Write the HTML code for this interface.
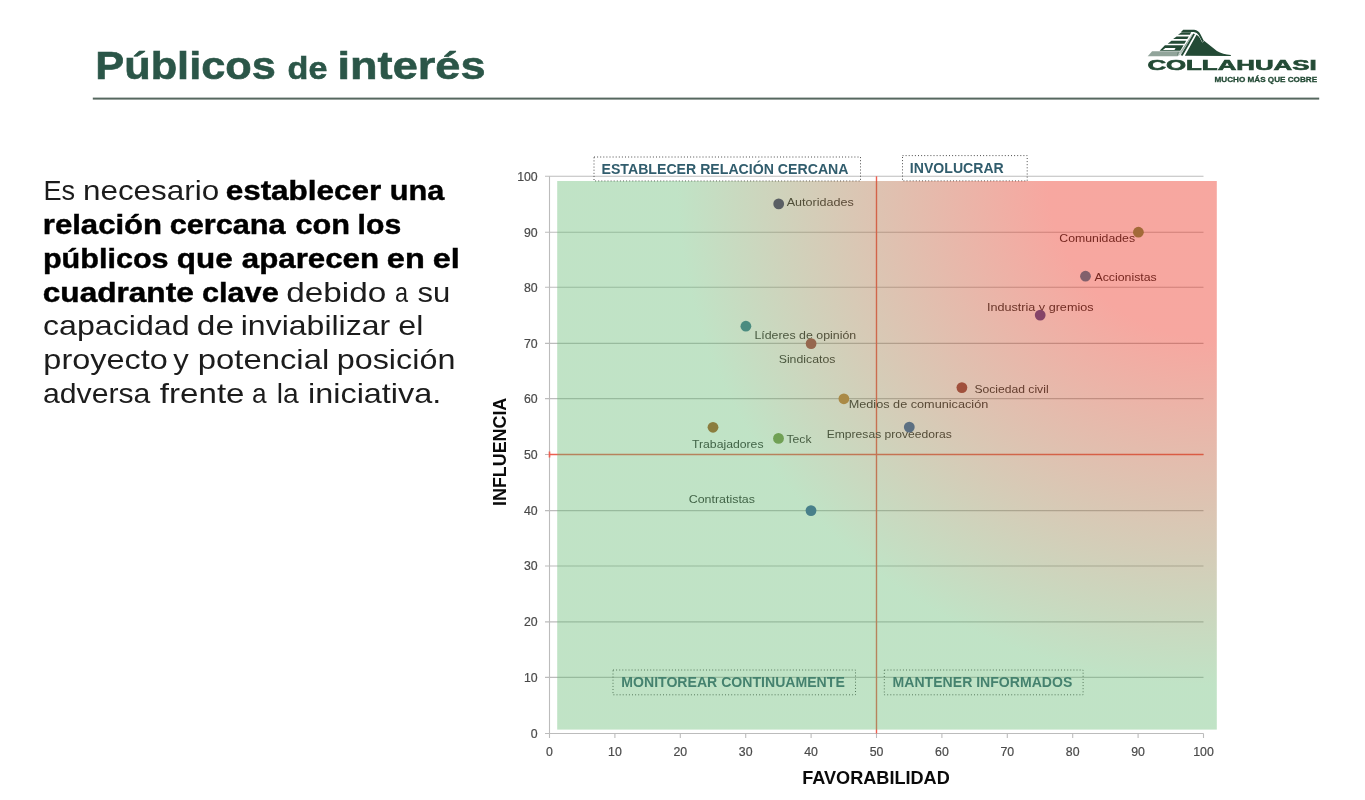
<!DOCTYPE html>
<html lang="es"><head><meta charset="utf-8"><title>Públicos de interés</title>
<style>
html,body{margin:0;padding:0;background:#fff;}
body{width:1365px;height:800px;overflow:hidden;font-family:"Liberation Sans",sans-serif;}
svg{display:block;position:absolute;left:0;top:0;}
text{font-family:"Liberation Sans",sans-serif;}
.t{fill:#2b5648;stroke:#2b5648;stroke-width:0.6px;font-weight:bold;}
.lg{fill:#234a35;font-weight:bold;}
.b{fill:#1c1c1c;font-size:28px;}
.bb{fill:#000;stroke:#000;stroke-width:0.45px;font-size:28px;font-weight:bold;}
.ax{fill:#4a4a4a;stroke:#4a4a4a;stroke-width:0.2px;font-size:12.3px;}
.lb{fill:#282828;font-size:11.3px;}
.q{fill:#315d6d;font-weight:bold;font-size:13.8px;}
.at{fill:#0a0a0a;font-weight:bold;font-size:19px;}
</style></head><body>
<svg width="1365" height="800" viewBox="0 0 1365 800">
<defs>
<radialGradient id="ov" gradientUnits="userSpaceOnUse" cx="0" cy="0" r="1" gradientTransform="translate(1217 181) scale(750 700)">
<stop offset="0" stop-color="#eb2311"/>
<stop offset="0.225" stop-color="#eb2311"/>
<stop offset="0.72" stop-color="#62b970"/>
<stop offset="1" stop-color="#62b970"/>
</radialGradient>
</defs>
<text class="t" y="79.2"><tspan x="95.3" font-size="39.5" textLength="180.5" lengthAdjust="spacingAndGlyphs">Públicos</tspan> <tspan x="287.6" font-size="31.5" textLength="39.8" lengthAdjust="spacingAndGlyphs">de</tspan> <tspan x="337.5" font-size="39.5" textLength="148" lengthAdjust="spacingAndGlyphs">interés</tspan></text>
<rect x="92.8" y="97.6" width="1226.4" height="2" fill="#56685f"/>
<g fill="#234a35">
<path d="M 1184.84 55.79 L 1196.56 34.84 L 1216.92 51.11 Q 1222.78 54.62 1230.84 55.06 L 1230.84 56.01 Z"/>
<path d="M 1180.73 55.14 L 1193.33 33.38 L 1194.95 34.26 L 1182.64 55.79 Z"/>
<path d="M 1183.22 29.86 L 1194.21 29.86 Q 1198.61 30.45 1200.44 34.26 L 1203.88 41.00 L 1202.42 42.02 L 1198.61 34.99 Q 1197.14 32.21 1193.85 31.91 L 1181.03 31.91 Z" stroke="#fff" stroke-width="0.9" paint-order="stroke"/>
<path d="M 1181.61 32.21 L 1191.28 32.21 L 1189.82 34.77 L 1177.95 34.77 Z"/>
<path d="M 1176.63 36.45 L 1188.72 36.45 L 1187.25 39.09 L 1173.11 39.09 Z"/>
<path d="M 1171.50 40.85 L 1186.15 40.85 L 1184.47 43.85 L 1167.69 43.85 Z"/>
<path d="M 1164.91 45.25 L 1183.59 45.25 L 1180.29 50.81 L 1159.63 50.81 Z M 1165.27 47.88 L 1162.86 49.93 L 1174.43 49.93 L 1175.60 47.88 Z" fill-rule="evenodd"/>
<path d="M 1152.09 51.25 L 1179.93 51.25 L 1177.51 56.23 L 1147.69 56.23 Z" opacity="0.5"/>
<g fill="none" stroke="#234a35" stroke-width="0.55" opacity="0.6"><path d="M 1192.16 34.26 L 1181.03 53.30 Q 1179.93 55.36 1177.36 55.65"/><path d="M 1189.67 38.65 L 1181.03 52.21 Q 1179.56 54.40 1177.00 54.62"/><path d="M 1186.89 43.19 L 1181.39 50.74 Q 1179.93 52.94 1177.00 53.30"/></g>
</g>
<text class="lg" x="1147.4" y="70" textLength="169.2" lengthAdjust="spacingAndGlyphs" font-size="14.3" style="stroke:#234a35;stroke-width:0.6px">COLLAHUASI</text>
<text class="lg" x="1214.5" y="82.4" textLength="102.6" lengthAdjust="spacingAndGlyphs" font-size="7.9" style="stroke:#234a35;stroke-width:0.3px">MUCHO MÁS QUE COBRE</text>
<text class="b"><tspan class="b" x="43.53" y="200.4" textLength="31.67" lengthAdjust="spacingAndGlyphs">Es</tspan> <tspan class="b" x="82.95" y="200.4" textLength="136.24" lengthAdjust="spacingAndGlyphs">necesario</tspan> <tspan class="bb" x="225.68" y="200.4" textLength="155.61" lengthAdjust="spacingAndGlyphs">establecer</tspan> <tspan class="bb" x="389.88" y="200.4" textLength="54.51" lengthAdjust="spacingAndGlyphs">una</tspan>
<tspan class="bb" x="42.79" y="234.0" textLength="119.35" lengthAdjust="spacingAndGlyphs">relación</tspan> <tspan class="bb" x="169.73" y="234.0" textLength="115.79" lengthAdjust="spacingAndGlyphs">cercana</tspan> <tspan class="bb" x="295.44" y="234.0" textLength="54.55" lengthAdjust="spacingAndGlyphs">con</tspan> <tspan class="bb" x="357.62" y="234.0" textLength="43.6" lengthAdjust="spacingAndGlyphs">los</tspan>
<tspan class="bb" x="42.93" y="267.7" textLength="125.68" lengthAdjust="spacingAndGlyphs">públicos</tspan> <tspan class="bb" x="176.89" y="267.7" textLength="55.76" lengthAdjust="spacingAndGlyphs">que</tspan> <tspan class="bb" x="241.82" y="267.7" textLength="137.21" lengthAdjust="spacingAndGlyphs">aparecen</tspan> <tspan class="bb" x="386.86" y="267.7" textLength="37.88" lengthAdjust="spacingAndGlyphs">en</tspan> <tspan class="bb" x="432.74" y="267.7" textLength="27.01" lengthAdjust="spacingAndGlyphs">el</tspan>
<tspan class="bb" x="42.81" y="301.5" textLength="150.95" lengthAdjust="spacingAndGlyphs">cuadrante</tspan> <tspan class="bb" x="201.97" y="301.5" textLength="76.72" lengthAdjust="spacingAndGlyphs">clave</tspan> <tspan class="b" x="286.17" y="301.5" textLength="100.07" lengthAdjust="spacingAndGlyphs">debido</tspan> <tspan class="b" x="394.92" y="301.5" textLength="13.07" lengthAdjust="spacingAndGlyphs">a</tspan> <tspan class="b" x="417.52" y="301.5" textLength="32.8" lengthAdjust="spacingAndGlyphs">su</tspan>
<tspan class="b" x="42.99" y="335.3" textLength="146.54" lengthAdjust="spacingAndGlyphs">capacidad</tspan> <tspan class="b" x="196.82" y="335.3" textLength="37.17" lengthAdjust="spacingAndGlyphs">de</tspan> <tspan class="b" x="240.78" y="335.3" textLength="149.4" lengthAdjust="spacingAndGlyphs">inviabilizar</tspan> <tspan class="b" x="398.34" y="335.3" textLength="25.03" lengthAdjust="spacingAndGlyphs">el</tspan>
<tspan class="b" x="43.37" y="369.0" textLength="124.37" lengthAdjust="spacingAndGlyphs">proyecto</tspan> <tspan class="b" x="173.25" y="369.0" textLength="15.48" lengthAdjust="spacingAndGlyphs">y</tspan> <tspan class="b" x="197.77" y="369.0" textLength="131.43" lengthAdjust="spacingAndGlyphs">potencial</tspan> <tspan class="b" x="336.71" y="369.0" textLength="118.67" lengthAdjust="spacingAndGlyphs">posición</tspan>
<tspan class="b" x="42.98" y="402.8" textLength="107.41" lengthAdjust="spacingAndGlyphs">adversa</tspan> <tspan class="b" x="159.89" y="402.8" textLength="84.65" lengthAdjust="spacingAndGlyphs">frente</tspan> <tspan class="b" x="252.06" y="402.8" textLength="14.57" lengthAdjust="spacingAndGlyphs">a</tspan> <tspan class="b" x="276.84" y="402.8" textLength="21.94" lengthAdjust="spacingAndGlyphs">la</tspan> <tspan class="b" x="308.05" y="402.8" textLength="133.25" lengthAdjust="spacingAndGlyphs">iniciativa.</tspan></text>
<g stroke="#bcbcbc" stroke-width="1.1">
<line x1="545.0" y1="677.4" x2="1203.5" y2="677.4"/>
<line x1="545.0" y1="621.9" x2="1203.5" y2="621.9"/>
<line x1="545.0" y1="566.0" x2="1203.5" y2="566.0"/>
<line x1="545.0" y1="510.6" x2="1203.5" y2="510.6"/>
<line x1="545.0" y1="454.5" x2="1203.5" y2="454.5"/>
<line x1="545.0" y1="398.6" x2="1203.5" y2="398.6"/>
<line x1="545.0" y1="343.4" x2="1203.5" y2="343.4"/>
<line x1="545.0" y1="287.3" x2="1203.5" y2="287.3"/>
<line x1="545.0" y1="232.2" x2="1203.5" y2="232.2"/>
<line x1="545.0" y1="176.2" x2="1203.5" y2="176.2"/>
<line x1="549.5" y1="176.2" x2="549.5" y2="738.0"/>
<line x1="545.0" y1="733.5" x2="1203.5" y2="733.5"/>
<line x1="614.9" y1="733.5" x2="614.9" y2="738.0"/>
<line x1="680.3" y1="733.5" x2="680.3" y2="738.0"/>
<line x1="745.7" y1="733.5" x2="745.7" y2="738.0"/>
<line x1="811.1" y1="733.5" x2="811.1" y2="738.0"/>
<line x1="876.5" y1="733.5" x2="876.5" y2="738.0"/>
<line x1="941.9" y1="733.5" x2="941.9" y2="738.0"/>
<line x1="1007.3" y1="733.5" x2="1007.3" y2="738.0"/>
<line x1="1072.7" y1="733.5" x2="1072.7" y2="738.0"/>
<line x1="1138.1" y1="733.5" x2="1138.1" y2="738.0"/>
<line x1="1203.5" y1="733.5" x2="1203.5" y2="738.0"/>
</g>
<g stroke="#ee5f50" stroke-width="1.4"><line x1="549.5" y1="454.5" x2="1203.5" y2="454.5"/><line x1="876.5" y1="176.2" x2="876.5" y2="733.5"/><line x1="549.5" y1="451.5" x2="549.5" y2="457.5" stroke-width="1.6"/></g>
<text class="ax" x="537.7" y="737.8" text-anchor="end">0</text>
<text class="ax" x="549.5" y="755.5" text-anchor="middle">0</text>
<text class="ax" x="537.7" y="681.7" text-anchor="end">10</text>
<text class="ax" x="614.9" y="755.5" text-anchor="middle">10</text>
<text class="ax" x="537.7" y="626.2" text-anchor="end">20</text>
<text class="ax" x="680.3" y="755.5" text-anchor="middle">20</text>
<text class="ax" x="537.7" y="570.3" text-anchor="end">30</text>
<text class="ax" x="745.7" y="755.5" text-anchor="middle">30</text>
<text class="ax" x="537.7" y="514.9" text-anchor="end">40</text>
<text class="ax" x="811.1" y="755.5" text-anchor="middle">40</text>
<text class="ax" x="537.7" y="458.8" text-anchor="end">50</text>
<text class="ax" x="876.5" y="755.5" text-anchor="middle">50</text>
<text class="ax" x="537.7" y="402.9" text-anchor="end">60</text>
<text class="ax" x="941.9" y="755.5" text-anchor="middle">60</text>
<text class="ax" x="537.7" y="347.7" text-anchor="end">70</text>
<text class="ax" x="1007.3" y="755.5" text-anchor="middle">70</text>
<text class="ax" x="537.7" y="291.6" text-anchor="end">80</text>
<text class="ax" x="1072.7" y="755.5" text-anchor="middle">80</text>
<text class="ax" x="537.7" y="236.5" text-anchor="end">90</text>
<text class="ax" x="1138.1" y="755.5" text-anchor="middle">90</text>
<text class="ax" x="537.7" y="180.5" text-anchor="end">100</text>
<text class="ax" x="1203.5" y="755.5" text-anchor="middle">100</text>
<text class="lb" x="786.7" y="205.9" textLength="67.1" lengthAdjust="spacingAndGlyphs">Autoridades</text>
<text class="lb" x="1059.3" y="242.4" textLength="75.8" lengthAdjust="spacingAndGlyphs">Comunidades</text>
<text class="lb" x="1094.5" y="280.7" textLength="62.2" lengthAdjust="spacingAndGlyphs">Accionistas</text>
<text class="lb" x="987" y="310.7" textLength="106.5" lengthAdjust="spacingAndGlyphs">Industria y gremios</text>
<text class="lb" x="754.4" y="338.5" textLength="101.8" lengthAdjust="spacingAndGlyphs">Líderes de opinión</text>
<text class="lb" x="778.7" y="363.4" textLength="56.7" lengthAdjust="spacingAndGlyphs">Sindicatos</text>
<text class="lb" x="974.4" y="392.9" textLength="74.2" lengthAdjust="spacingAndGlyphs">Sociedad civil</text>
<text class="lb" x="848.7" y="408.3" textLength="139.6" lengthAdjust="spacingAndGlyphs">Medios de comunicación</text>
<text class="lb" x="692.0" y="448.3" textLength="71.5" lengthAdjust="spacingAndGlyphs">Trabajadores</text>
<text class="lb" x="826.7" y="437.5" textLength="125.2" lengthAdjust="spacingAndGlyphs">Empresas proveedoras</text>
<text class="lb" x="786.5" y="443" textLength="25" lengthAdjust="spacingAndGlyphs">Teck</text>
<text class="lb" x="688.7" y="503" textLength="66.3" lengthAdjust="spacingAndGlyphs">Contratistas</text>
<rect x="594" y="157" width="266.5" height="24" fill="none" stroke="#4d4d4d" stroke-width="1" stroke-dasharray="1 2.1"/>
<text class="q" x="601.5" y="174.1" textLength="247" lengthAdjust="spacingAndGlyphs">ESTABLECER RELACIÓN CERCANA</text>
<rect x="902.5" y="155.6" width="124.7" height="25.3" fill="none" stroke="#4d4d4d" stroke-width="1" stroke-dasharray="1 2.1"/>
<text class="q" x="909.8" y="172.6" textLength="94" lengthAdjust="spacingAndGlyphs">INVOLUCRAR</text>
<rect x="613" y="670" width="242.5" height="24.8" fill="none" stroke="#4d4d4d" stroke-width="1" stroke-dasharray="1 2.1"/>
<text class="q" x="621.3" y="687.3" textLength="223.5" lengthAdjust="spacingAndGlyphs">MONITOREAR CONTINUAMENTE</text>
<rect x="884.3" y="670" width="198.8" height="24.8" fill="none" stroke="#4d4d4d" stroke-width="1" stroke-dasharray="1 2.1"/>
<text class="q" x="892.6" y="687.3" textLength="179.7" lengthAdjust="spacingAndGlyphs">MANTENER INFORMADOS</text>
<rect x="557.2" y="181" width="659.6" height="548.6" fill="url(#ov)" fill-opacity="0.4"/>
<circle cx="778.7" cy="203.9" r="5.4" fill="#5a5f64"/>
<circle cx="1138.4" cy="232.2" r="5.4" fill="#a36a38"/>
<circle cx="1085.5" cy="276.2" r="5.4" fill="#82606c"/>
<circle cx="1040.2" cy="315.1" r="5.4" fill="#854468"/>
<circle cx="745.9" cy="326.2" r="5.4" fill="#4b8c80"/>
<circle cx="811.1" cy="343.6" r="5.4" fill="#96674e"/>
<circle cx="961.9" cy="387.6" r="5.4" fill="#a0503c"/>
<circle cx="843.9" cy="398.8" r="5.4" fill="#aa8a46"/>
<circle cx="713" cy="427.3" r="5.4" fill="#8b7d3e"/>
<circle cx="909.3" cy="427.1" r="5.4" fill="#5c7082"/>
<circle cx="778.5" cy="438.4" r="5.4" fill="#70a054"/>
<circle cx="811" cy="510.6" r="5.4" fill="#48808a"/>
<text class="at" x="802.2" y="784.1" textLength="147.6" lengthAdjust="spacingAndGlyphs">FAVORABILIDAD</text>
<text class="at" transform="translate(506.4 506) rotate(-90)" textLength="108.3" lengthAdjust="spacingAndGlyphs">INFLUENCIA</text>
</svg>
</body></html>
